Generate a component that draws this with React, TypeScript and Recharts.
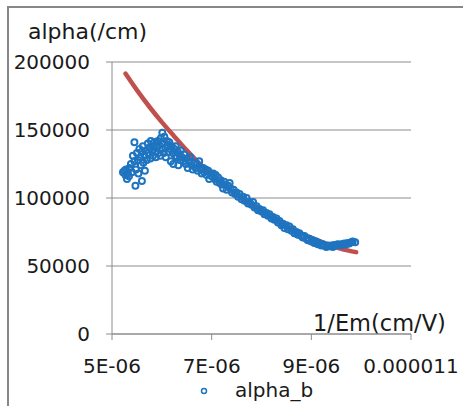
import React from "react"
import { ComposedChart, Scatter, Line, XAxis, YAxis, CartesianGrid, Label } from "recharts"

// x values in units of 1E-06 cm/V
const alphaX = [
  5.22, 5.25, 5.27, 5.28, 5.30, 5.32, 5.34, 5.35, 5.38, 5.40, 5.42, 5.45, 5.45, 5.47, 5.48, 5.50, 5.52, 5.53,
  5.55, 5.57, 5.58, 5.60, 5.60, 5.62, 5.63, 5.65, 5.66, 5.68, 5.70, 5.72, 5.73, 5.75, 5.77, 5.78, 5.80, 5.82,
  5.83, 5.85, 5.87, 5.88, 5.90, 5.92, 5.93, 5.95, 5.97, 5.98, 6.00, 6.01, 6.02, 6.04, 6.05, 6.07, 6.08, 6.10,
  6.12, 6.13, 6.15, 6.17, 6.18, 6.20, 6.22, 6.23, 6.25, 6.27, 6.28, 6.30, 6.32, 6.33, 6.35, 6.37, 6.38, 6.40,
  6.43, 6.45, 6.48, 6.50, 6.52, 6.55, 6.57, 6.60, 6.62, 6.65, 6.68, 6.70, 6.72, 6.75, 6.78, 6.80, 6.83, 6.85,
  6.88, 6.90, 6.93, 6.95, 6.98, 7.00, 7.03, 7.06, 7.08, 7.10, 7.13, 7.16, 7.18, 7.20, 7.23, 7.25, 7.28, 7.30,
  7.33, 7.36, 7.38, 7.41, 7.44, 7.47, 7.50, 7.53, 7.56, 7.60, 7.63, 7.66, 7.70, 7.73, 7.76, 7.80, 7.83, 7.86,
  7.90, 7.93, 7.96, 8.00, 8.03, 8.06, 8.10, 8.13, 8.16, 8.20, 8.23, 8.26, 8.30, 8.33, 8.36, 8.40, 8.43, 8.46,
  8.50, 8.53, 8.56, 8.60, 8.63, 8.66, 8.70, 8.73, 8.76, 8.80, 8.83, 8.86, 8.90, 8.93, 8.96, 9.00, 9.03, 9.06,
  9.10, 9.13, 9.16, 9.20, 9.23, 9.26, 9.30, 9.33, 9.36, 9.40, 9.43, 9.46, 9.50, 9.53, 9.56, 9.60, 9.63, 9.66,
  9.70, 9.73, 9.76, 9.80, 9.83, 9.88,
]
const alphaY = [
  119000, 120000, 117000, 121000, 114000, 118000, 116000, 122000, 125000, 119000, 131000, 141000, 127000, 109000, 121000, 133000, 128000, 118000,
  136000, 130000, 124000, 112500, 134000, 138000, 126000, 131000, 120000, 135000, 128000, 140000, 133000, 137000, 129000, 142000, 135000, 131000,
  138000, 141000, 134000, 130000, 137000, 142000, 133000, 139000, 131000, 144000, 136000, 148000, 140000, 133000, 145000, 137000, 130000, 142000,
  139000, 134000, 141000, 136000, 127000, 138000, 133000, 125000, 136000, 131000, 138000, 130000, 134000, 124000, 132000, 128000, 135000, 130000,
  127000, 132000, 125000, 129000, 122000, 127000, 130000, 124000, 121000, 126000, 122000, 125000, 120000, 127000, 121000, 118000, 122000, 119000,
  121000, 117000, 120000, 114000, 118000, 116000, 118000, 114000, 117000, 112000, 115000, 111000, 113000, 110000, 107000, 112000, 110000, 106000,
  109000, 111000, 107000, 104000, 106000, 103000, 104000, 101000, 103000, 99000, 101000, 98000, 100000, 96000, 97000, 95000, 97000, 93000,
  94000, 91000, 92000, 90000, 91000, 88000, 89000, 87000, 88000, 85000, 86000, 84000, 85000, 82000, 83000, 80000, 81000, 78000,
  80000, 77000, 79000, 76000, 77000, 74000, 75000, 73000, 74000, 72000, 71000, 72000, 70000, 69000, 70000, 68000, 69000, 67000,
  68000, 66000, 67000, 65000, 66000, 65000, 64000, 65000, 64500, 65000, 64000, 65500, 65000, 66000, 65500, 66000, 65500, 66500,
  66000, 67000, 66500, 67500, 68000, 67500,
]

// fitted curve
const fitX = [5.27, 5.5, 5.75, 6.0, 6.25, 6.5, 6.75, 7.0, 7.25, 7.5, 7.75, 8.0, 8.25, 8.5, 8.75, 9.0, 9.25, 9.5, 9.75, 9.9]
const fitY = [191500, 179300, 167100, 155800, 145300, 135000, 125500, 117000, 109000, 102000, 95600, 89700, 84300, 79500, 74800, 70700, 67000, 63800, 61300, 60200]

const xTicks = [5, 7, 9, 11]
const xTickLabels = ["5E-06", "7E-06", "9E-06", "0.000011"]
const yTicks = [0, 50000, 100000, 150000, 200000]

const FONT = "'DejaVu Sans', sans-serif"
const BLUE = "#1f74c0"
const RED = "#c0504d"
const GRID = "#8c8c8c"

const scatterData = alphaX.map((x, i) => ({ x, y: alphaY[i] }))
const fitData = fitX.map((x, i) => ({ x, y: fitY[i] }))

const Ring = (props: any) => {
  const { cx, cy } = props
  if (cx == null || cy == null) return null
  return <circle cx={cx} cy={cy} r={3} fill="none" stroke={BLUE} strokeWidth={2} />
}

export default function App() {
  return (
    <div style={{ position: "absolute", left: 0, top: 0, width: 463, height: 406, overflow: "hidden", background: "#fff", fontFamily: FONT }}>
      <div style={{ position: "absolute", left: 7, top: 6, width: 520, height: 460, borderLeft: "2px solid #878787", borderTop: "2px solid #878787" }} />
      <div style={{ position: "absolute", left: 0, top: 0 }}>
        <ComposedChart width={463} height={406} margin={{ top: 62, right: 52, bottom: 32, left: 0 }}>
          <CartesianGrid horizontal vertical={false} stroke={GRID} strokeWidth={1} />
          <XAxis
            type="number"
            dataKey="x"
            domain={[5, 11]}
            ticks={xTicks}
            interval={0}
            height={40}
            tickSize={6}
            tickMargin={19}
            stroke={GRID}
            tick={{ fontSize: 20, fill: "#1a1a1a", fontFamily: FONT }}
            tickFormatter={(v: number) => xTickLabels[xTicks.indexOf(v)] ?? String(v)}
          >
            <Label
              content={() => (
                <text x={313} y={331} fontSize={22.5} fill="#1a1a1a" fontFamily={FONT}>1/Em(cm/V)</text>
              )}
            />
          </XAxis>
          <YAxis
            type="number"
            dataKey="y"
            domain={[0, 200000]}
            ticks={yTicks}
            interval={0}
            width={112}
            tickSize={6}
            tickMargin={16}
            stroke={GRID}
            tick={{ fontSize: 20, fill: "#1a1a1a", fontFamily: FONT }}
          >
            <Label
              content={() => (
                <text x={28} y={39} fontSize={22} fill="#1a1a1a" fontFamily={FONT}>alpha(/cm)</text>
              )}
            />
          </YAxis>
          <Scatter name="alpha_b" data={scatterData} shape={<Ring />} isAnimationActive={false} />
          <Line
            data={fitData}
            dataKey="y"
            type="monotone"
            stroke={RED}
            strokeWidth={4.5}
            strokeLinecap="round"
            dot={false}
            activeDot={false}
            legendType="none"
            isAnimationActive={false}
          />
        </ComposedChart>
      </div>
      <svg style={{ position: "absolute", left: 0, top: 376 }} width={463} height={30}>
        <circle cx={204} cy={15} r={2.5} fill="none" stroke={BLUE} strokeWidth={1.5} />
        <text x={235} y={21} fontSize={20} fill="#1a1a1a" fontFamily={FONT}>alpha_b</text>
      </svg>
    </div>
  )
}
